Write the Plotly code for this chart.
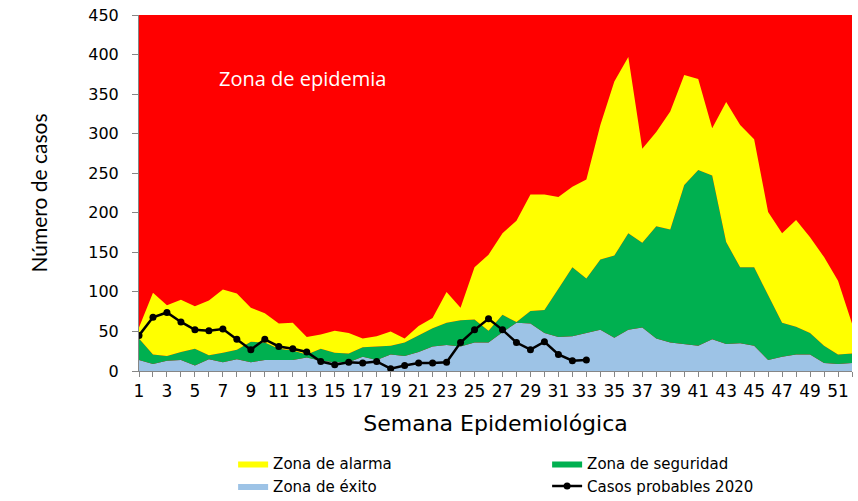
import plotly.graph_objects as go

# Epidemiological week
weeks = list(range(1, 53))

# Upper limit of each channel-endemic zone (number of cases)
exito_top = [14, 9, 13, 14, 7, 15, 11, 15, 11, 14, 14, 14, 17, 13, 11, 11, 18, 14, 21, 19,
             24, 31, 33, 31, 36, 36, 49, 61, 60, 48, 43, 44, 48, 52, 42, 52, 55, 41, 36, 34,
             32, 40, 34, 35, 32, 14, 18, 21, 21, 10, 9, 10]
seguridad_top = [41, 21, 19, 24, 28, 20, 23, 27, 37, 36, 28, 26, 21, 28, 23, 22, 30, 31, 32, 36,
                 45, 54, 61, 64, 65, 51, 71, 62, 76, 77, 104, 131, 117, 141, 146, 174, 162, 183, 179, 235,
                 254, 247, 163, 131, 131, 95, 61, 56, 48, 32, 21, 22]
alarma_top = [55, 99, 83, 90, 82, 89, 103, 98, 80, 73, 60, 61, 43, 46, 51, 48, 41, 44, 50, 41,
              57, 67, 100, 80, 131, 147, 174, 190, 223, 223, 220, 233, 242, 311, 366, 397, 281, 302, 328, 374,
              369, 307, 340, 311, 293, 201, 174, 191, 169, 144, 114, 60]

# Probable cases reported in 2020 (weeks 1-33)
casos_2020 = [45, 68, 74, 62, 52, 51, 53, 40, 27, 40, 31, 28, 24, 12, 8, 11, 10, 12, 3, 7,
              10, 10, 11, 36, 52, 66, 52, 36, 27, 37, 21, 13, 14]

tick_text = [str(w) if w % 2 == 1 else "" for w in weeks]

fig = go.Figure()

fig.add_trace(go.Scatter(
    x=weeks, y=exito_top, name="Zona de éxito", mode="lines",
    line=dict(width=0, color="#9DC3E6"), fill="tozeroy", fillcolor="#9DC3E6",
    legendrank=3, hoverinfo="skip"))
fig.add_trace(go.Scatter(
    x=weeks, y=seguridad_top, name="Zona de seguridad", mode="lines",
    line=dict(width=0, color="#00B050"), fill="tonexty", fillcolor="#00B050",
    legendrank=2, hoverinfo="skip"))
fig.add_trace(go.Scatter(
    x=weeks, y=alarma_top, name="Zona de alarma", mode="lines",
    line=dict(width=0, color="#FFFF00"), fill="tonexty", fillcolor="#FFFF00",
    legendrank=1, hoverinfo="skip"))
fig.add_trace(go.Scatter(
    x=weeks[:len(casos_2020)], y=casos_2020, name="Casos probables 2020",
    mode="lines+markers", line=dict(color="black", width=2.5),
    marker=dict(color="black", size=7), legendrank=4))

fig.add_annotation(
    text="Zona de epidemia", xref="paper", yref="paper", x=0.229, y=0.823,
    xanchor="center", yanchor="middle",
    showarrow=False, font=dict(family="Open Sans", size=20, color="white"))

fig.update_layout(
    width=858, height=501,
    margin=dict(l=139, r=6, t=15, b=130, autoexpand=False),
    paper_bgcolor="white", plot_bgcolor="#FF0000",
    font=dict(family="DejaVu Sans", color="black"),
    showlegend=True,
    legend=dict(
        orientation="h", x=0.132, xanchor="left", y=-0.214, yanchor="top",
        entrywidth=269, entrywidthmode="pixels", traceorder="normal",
        font=dict(family="DejaVu Sans", size=15, color="black"),
        tracegroupgap=0, itemwidth=30, bgcolor="rgba(0,0,0,0)"),
)

fig.update_xaxes(
    range=[1, 52], tickmode="array", tickvals=weeks, ticktext=tick_text,
    showgrid=False, zeroline=False, showline=True, linecolor="#868686", linewidth=1,
    ticks="outside", ticklen=5, tickcolor="#868686",
    tickfont=dict(family="DejaVu Sans", size=17, color="black"),
    title=dict(text="Semana Epidemiológica", standoff=15,
               font=dict(family="DejaVu Sans", size=22, color="black")))

fig.update_yaxes(
    range=[0, 450], dtick=50, showgrid=False, zeroline=False,
    showline=True, linecolor="#868686", linewidth=1,
    ticks="outside", ticklen=6, tickcolor="#868686", ticklabelstandoff=10,
    tickfont=dict(family="DejaVu Sans", size=16, color="black"),
    title=dict(text="Número de casos", standoff=34,
               font=dict(family="Lato", size=21, color="black")))

fig.write_html("out.html")
